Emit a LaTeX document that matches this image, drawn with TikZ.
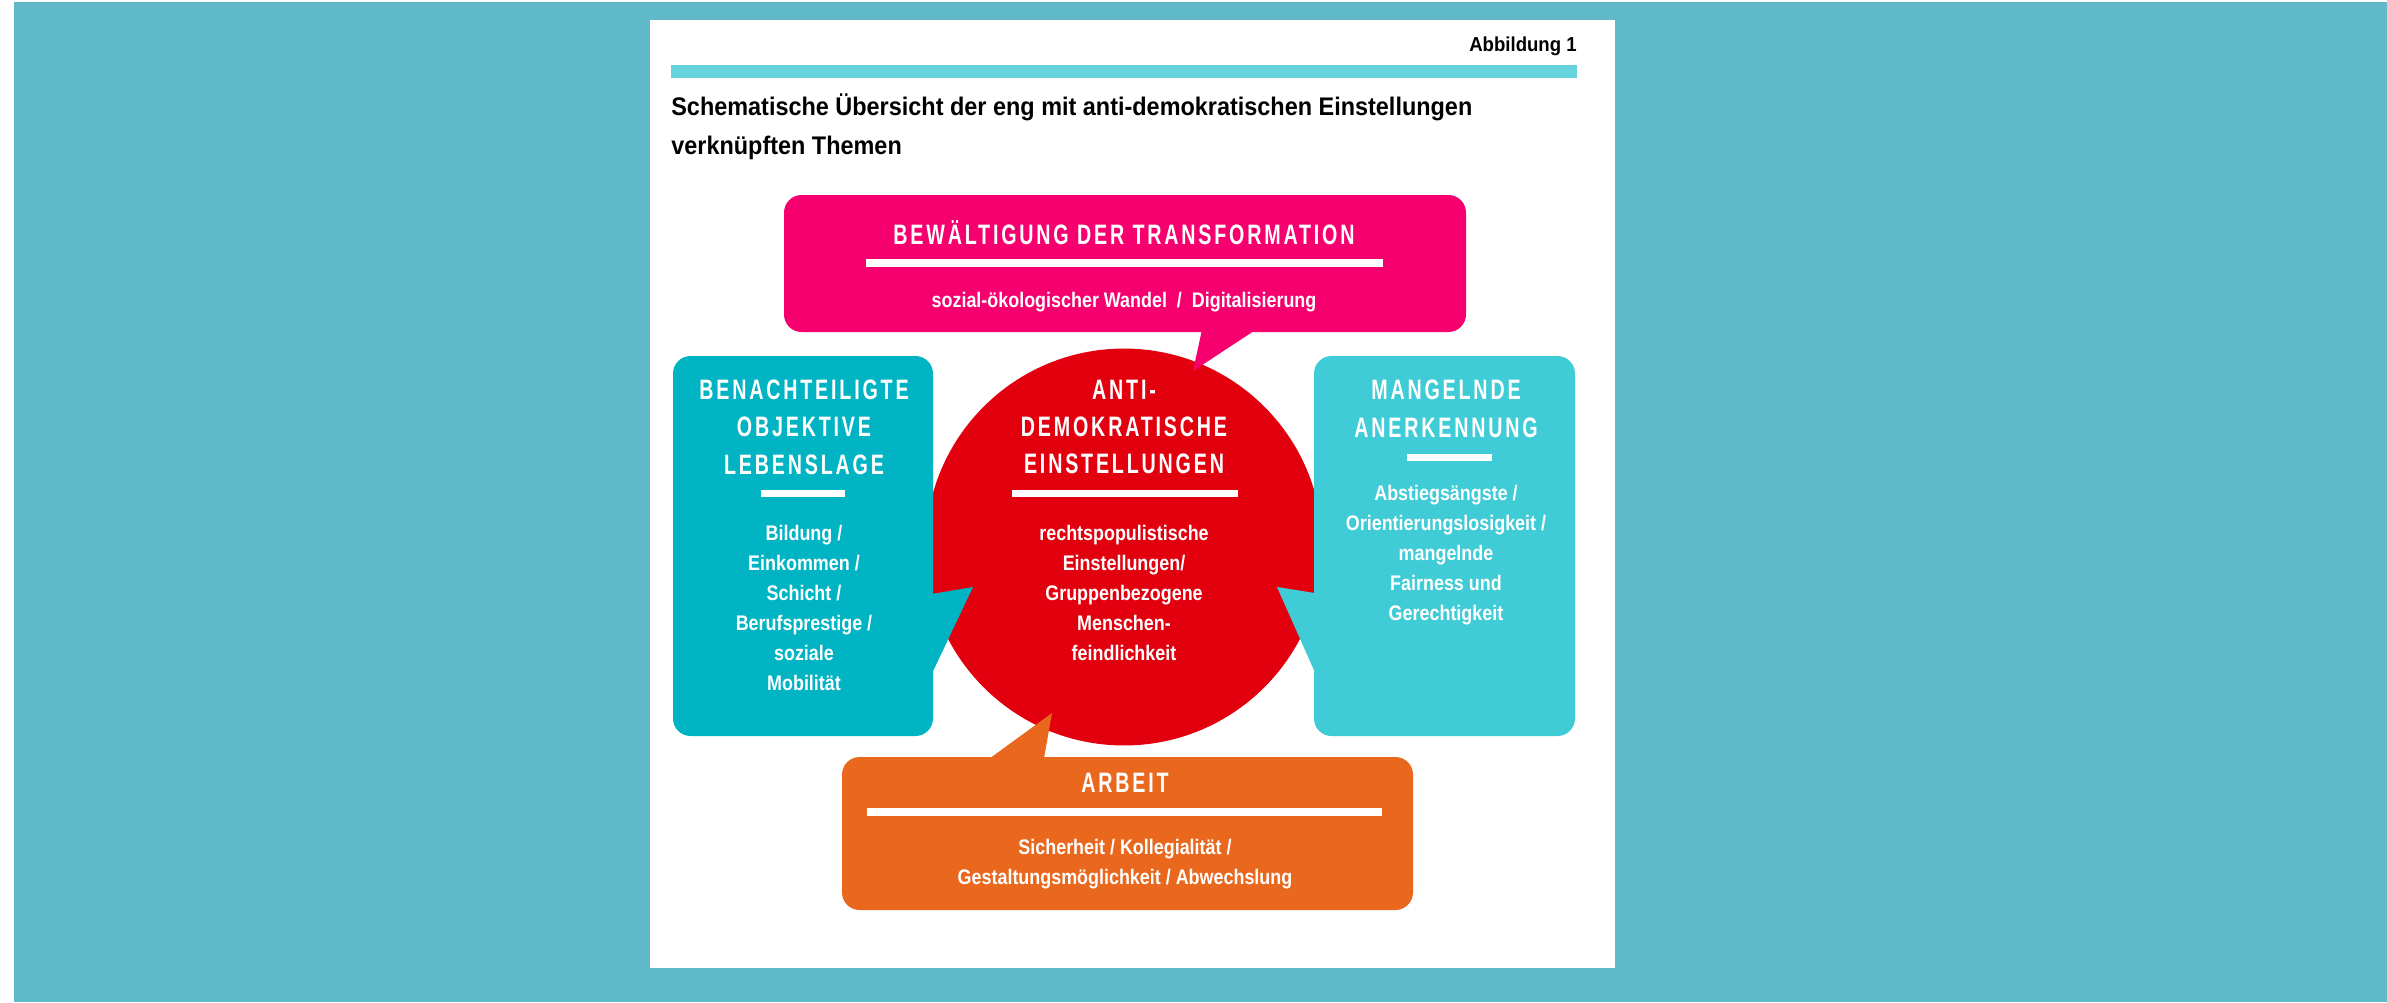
\documentclass[tikz,border=0pt]{standalone}
\usepackage{fontspec}
\setmainfont{Liberation Sans}[FakeStretch=0.85]
\newfontfamily\titlefont{Liberation Sans}[FakeStretch=0.92]
\newfontfamily\headfont{Liberation Sans}[FakeStretch=0.7, LetterSpace=10]
\usepackage{tikz}

\definecolor{bgteal}{RGB}{95,185,201}
\definecolor{barteal}{RGB}{102,211,221}
\definecolor{pinkbox}{RGB}{245,0,110}
\definecolor{redcirc}{RGB}{226,0,15}
\definecolor{tealbox}{RGB}{0,180,195}
\definecolor{lighttealbox}{RGB}{64,204,214}
\definecolor{orangebox}{RGB}{233,104,29}

\begin{document}
\begin{tikzpicture}[x=0.02cm, y=-0.02cm,
  head/.style={text=white, inner sep=0pt, align=center,
    font=\headfont\bfseries\fontsize{16}{21.3}\selectfont},
  body/.style={text=white, inner sep=0pt, align=center,
    font=\bfseries\fontsize{12}{17.1}\selectfont},
  titel/.style={anchor=base west, inner sep=0pt,
    font=\titlefont\bfseries\fontsize{14.5}{14.5}\selectfont},
  bubble/.style={rounded corners=10pt}]
\useasboundingbox (0,0) rectangle (2387,1002);
\fill[white] (0,0) rectangle (2387,1002);
\fill[bgteal] (14,2) rectangle (2387,1002);
\fill[white] (650,20) rectangle (1615,968);

% Kopf
\node[anchor=base east, inner sep=0pt, font=\titlefont\bfseries\fontsize{11.5}{11.5}\selectfont] (abb) at (1577,51) {Abbildung 1};
\fill[barteal] (671,65) rectangle (1577,78);
\node[titel] (titel1) at (671,115) {Schematische Übersicht der eng mit anti-demokratischen Einstellungen};
\node[titel] (titel2) at (671,154) {verknüpften Themen};

% Kreis in der Mitte
\node[circle, fill=redcirc, minimum size=7.94cm, inner sep=0pt] (kern) at (1124,547) {};
\node[head] (kernkopf) at (1124,427) {ANTI-\\DEMOKRATISCHE\\EINSTELLUNGEN};
\fill[white] (1012,490) rectangle (1238,497);
\node[body] (kerntext) at (1124,593) {rechtspopulistische\\Einstellungen/\\Gruppenbezogene\\Menschen-\\feindlichkeit};

% oben: Transformation
\fill[pinkbox, bubble] (784,195) rectangle (1466,332);
\fill[pinkbox] (1203,325) -- (1193,371) -- (1263,325) -- cycle;
\node[head] (transfkopf) at (1124,233) {BEWÄLTIGUNG DER TRANSFORMATION};
\fill[white] (866,259) rectangle (1383,267);
\node[body] (transftext) at (1124,302) {sozial-ökologischer Wandel~ /~ Digitalisierung};

% links: Lebenslage
\fill[tealbox, bubble] (673,356) rectangle (933,736);
\fill[tealbox] (926,595) -- (973,587) -- (926,686) -- cycle;
\node[head] (lagekopf) at (804,427) {BENACHTEILIGTE\\OBJEKTIVE\\LEBENSLAGE};
\fill[white] (761,490) rectangle (845,497);
\node[body] (lagetext) at (804,608) {Bildung /\\Einkommen /\\Schicht /\\Berufsprestige /\\soziale\\Mobilität};

% rechts: Anerkennung
\fill[lighttealbox, bubble] (1314,356) rectangle (1575,736);
\fill[lighttealbox] (1321,594) -- (1277,587) -- (1321,686) -- cycle;
\node[head] (anerkkopf) at (1446,409) {MANGELNDE\\ANERKENNUNG};
\fill[white] (1407,454) rectangle (1492,461);
\node[body] (anerktext) at (1446,555) {Abstiegsängste /\\Orientierungslosigkeit /\\mangelnde\\Fairness und\\Gerechtigkeit};

% unten: Arbeit
\fill[orangebox, bubble] (842,757) rectangle (1413,910);
\fill[orangebox] (982,764) -- (1052,713) -- (1043,764) -- cycle;
\node[head] (arbeitkopf) at (1125,783) {ARBEIT};
\fill[white] (867,808) rectangle (1382,816);
\node[body] (arbeittext) at (1125,864) {Sicherheit / Kollegialität /\\Gestaltungsmöglichkeit / Abwechslung};
\end{tikzpicture}
\end{document}
